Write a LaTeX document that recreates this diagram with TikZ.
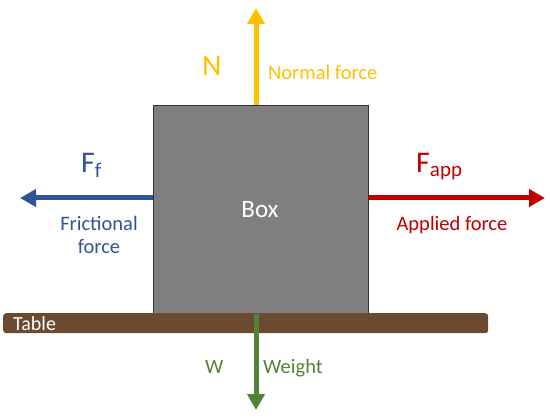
\documentclass[tikz,border=0pt]{standalone}
\usepackage{fontspec}
\setmainfont{Carlito}
\usetikzlibrary{arrows.meta}
\definecolor{boxgray}{HTML}{7F7F7F}
\definecolor{boxedge}{HTML}{303030}
\definecolor{tablebrown}{HTML}{6B4A2F}
\definecolor{nyellow}{HTML}{FFC000}
\definecolor{fblue}{HTML}{2F5597}
\definecolor{ared}{HTML}{C00000}
\definecolor{wgreen}{HTML}{548235}
\tikzset{
  force/.style={line width=5pt,-{Triangle[width=17pt,length=16pt]}},
  lbl/.style={font=\fontsize{20.5}{23}\selectfont,inner sep=0pt},
  sym/.style={font=\fontsize{30}{33}\selectfont,inner sep=0pt},
}
\begin{document}
\begin{tikzpicture}[x=1pt,y=-1pt]
\useasboundingbox (0,0) rectangle (550,420);
\node[draw=boxedge,line width=1.2pt,fill=boxgray,minimum width=215pt,minimum height=208pt,inner sep=0pt,anchor=north west] (box) at (153,105) {};
\node[text=white,font=\fontsize{25}{28}\selectfont,inner sep=0pt,anchor=base] (boxlbl) at (260,218) {Box};
\node[fill=tablebrown,rounded corners=3pt,minimum width=485pt,minimum height=20pt,inner sep=0pt,anchor=north west] (table) at (3,313) {};
\node[text=white,font=\fontsize{20}{22}\selectfont,inner sep=0pt,anchor=base west] (tablelbl) at (13,330) {Table};
\coordinate (ntip) at (256,8);
\coordinate (ftip) at (20,198);
\coordinate (atip) at (545,198);
\coordinate (wtip) at (256,410);
\draw[force,nyellow] (box.north -| ntip) -- (ntip);
\draw[force,fblue] (box.west |- ftip) -- (ftip);
\draw[force,ared] (box.east |- atip) -- (atip);
\draw[force,wgreen] (box.south -| wtip) -- (wtip);
\node[sym,text=nyellow,anchor=base west] (nsym) at (202,76) {N};
\node[lbl,text=nyellow,anchor=base west] (nlbl) at (268,80) {Normal force};
\node[sym,text=fblue,anchor=base west] (fsym) at (81,172) {F\textsubscript{f}};
\node[lbl,text=fblue,align=center,anchor=base] (flbl) at (99,253) {Frictional\\force};
\node[sym,text=ared,anchor=base west] (asym) at (416,173) {F\textsubscript{app}};
\node[lbl,text=ared,anchor=base] (albl) at (452,230) {Applied force};
\node[lbl,text=wgreen,anchor=base west] (wsym) at (205,373) {W};
\node[lbl,text=wgreen,anchor=base west] (wlbl) at (263,373) {Weight};
\end{tikzpicture}
\end{document}
